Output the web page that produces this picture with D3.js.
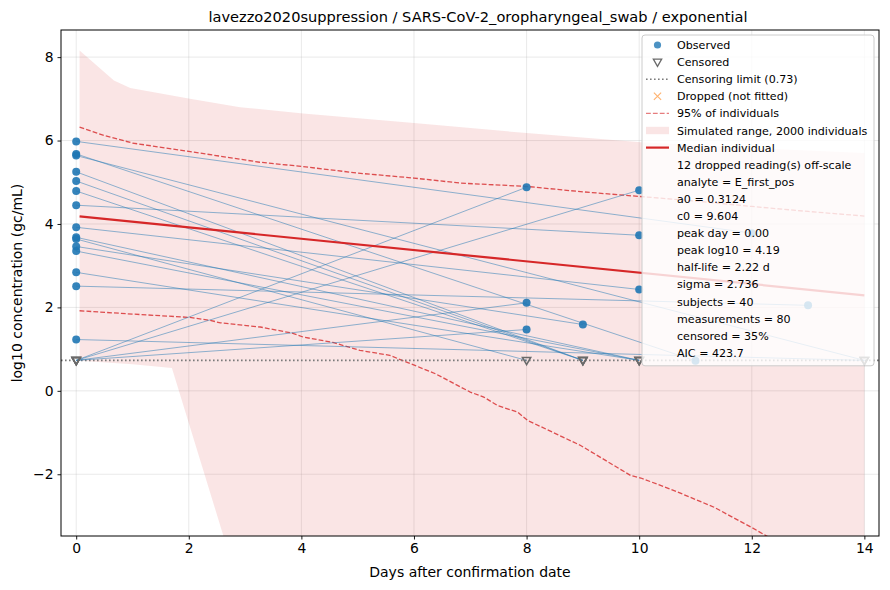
<!DOCTYPE html>
<html>
<head>
<meta charset="utf-8">
<script src="https://cdn.jsdelivr.net/npm/d3@7"></script>
<style>
  body { margin: 0; background: #fff; }
  svg { font-family: "DejaVu Sans", sans-serif; }
</style>
</head>
<body>
<svg id="chart" width="890" height="590"></svg>
<script>
// --- data ---
const censorLimit = 0.73;

// each subject: day-0 value (null = censored), follow-up day, follow-up value (null = censored)
const startValues = [5.98, 5.68, 5.64, 5.25, 5.03, 4.79, 4.45, 3.92, 3.68, 3.64, 3.46, 3.35, 2.84, 2.51, 1.23,
                     null, null, null, null];
const endDays     = [12, 11, 14, 9, 9, 9, 10, 10, 10, 8, 9, 10, 10, 13, 14,
                     8, 10, 8, 8];
const endValues   = [3.78, 0.72, null, null, null, null, 3.73, 2.43, null, null, 1.59, null, null, 2.05, null,
                     4.88, 4.81, 2.11, 1.47];

// simulated envelope and quantiles, [day, log10]
const bandUpper = [[0.06, 8.16], [0.67, 7.44], [0.96, 7.26], [2.02, 7.0], [2.91, 6.8], [4.03, 6.65],
                   [6.0, 6.42], [8.0, 6.18], [10.03, 5.96], [12, 5.82], [14, 5.7]];
const bandLower = [[0.06, 0.72], [1.0, 0.64], [1.7, 0.55], [2.02, -0.86], [2.62, -3.5], [3.0, -5.2], [14, -5.2]];
const q975 = [[0.06, 6.32], [0.5, 6.12], [1.0, 5.94], [2.0, 5.74], [3.26, 5.48], [4.0, 5.38], [5.0, 5.22],
              [6.0, 5.1], [6.82, 4.98], [8.0, 4.9], [9.0, 4.77], [10.0, 4.66], [11, 4.55], [12, 4.42],
              [13, 4.3], [14, 4.19]];
const q025 = [[0.06, 1.92], [1.0, 1.84], [2.02, 1.76], [2.38, 1.69], [2.56, 1.63], [3.27, 1.53], [3.85, 1.38],
              [4.03, 1.29], [4.56, 1.16], [5.04, 0.97], [5.57, 0.85], [5.94, 0.65], [6.38, 0.41], [7.0, -0.03],
              [7.24, -0.15], [7.48, -0.35], [7.84, -0.51], [8.02, -0.71], [8.96, -1.31], [9.85, -2.03],
              [10.03, -2.09], [10.62, -2.39], [11.33, -2.79], [11.99, -3.27], [12.29, -3.5], [13, -4.0], [14, -4.6]];
const medianDays = [0.06, 14];
const medianValues = [4.18, 2.29];

const xTicks = [0, 2, 4, 6, 8, 10, 12, 14];
const yTicks = [-2, 0, 2, 4, 6, 8];

const legendItems = ["Observed", "Censored", "Censoring limit (0.73)", "Dropped (not fitted)",
  "95% of individuals", "Simulated range, 2000 individuals", "Median individual"];
const legendNotes = ["12 dropped reading(s) off-scale", "analyte = E_first_pos", "a0 = 0.3124", "c0 = 9.604",
  "peak day = 0.00", "peak log10 = 4.19", "half-life = 2.22 d", "sigma = 2.736", "subjects = 40",
  "measurements = 80", "censored = 35%", "AIC = 423.7"];

const titleText = "lavezzo2020suppression / SARS-CoV-2_oropharyngeal_swab / exponential";

// --- layout ---
const svg = d3.select("#chart");
const plotLeft = 61, plotRight = 879, plotTop = 30, plotBottom = 536;
const blue = "#1f77b4", red = "#d62728", gray = "#6a6a6a";

const x = d3.scaleLinear().domain([-0.27, 14.26]).range([plotLeft, plotRight]);
const y = d3.scaleLinear().domain([-3.48, 8.65]).range([plotBottom, plotTop]);

svg.append("defs").append("clipPath").attr("id", "plot")
  .append("rect").attr("x", plotLeft).attr("y", plotTop)
  .attr("width", plotRight - plotLeft).attr("height", plotBottom - plotTop);

// grid
const grid = svg.append("g").attr("stroke", "#b0b0b0").attr("stroke-opacity", 0.35).attr("stroke-width", 0.8);
grid.selectAll(".gx").data(xTicks).enter().append("line")
  .attr("x1", d => x(d)).attr("x2", d => x(d)).attr("y1", plotTop).attr("y2", plotBottom);
grid.selectAll(".gy").data(yTicks).enter().append("line")
  .attr("y1", d => y(d)).attr("y2", d => y(d)).attr("x1", plotLeft).attr("x2", plotRight);

const plot = svg.append("g").attr("clip-path", "url(#plot)");
const line = d3.line().x(d => x(d[0])).y(d => y(d[1]));

// simulated range band
plot.append("path")
  .attr("d", line(bandUpper.concat(bandLower.slice().reverse())) + "Z")
  .attr("fill", red).attr("fill-opacity", 0.12);

// quantile lines
[q975, q025].forEach(q => {
  plot.append("path").attr("d", line(q)).attr("fill", "none")
    .attr("stroke", red).attr("stroke-opacity", 0.8).attr("stroke-width", 1.3)
    .attr("stroke-dasharray", "4.8,2.1");
});

// censoring limit
plot.append("line").attr("x1", plotLeft).attr("x2", plotRight)
  .attr("y1", y(censorLimit)).attr("y2", y(censorLimit))
  .attr("stroke", "#7a7a7a").attr("stroke-width", 1.6).attr("stroke-dasharray", "1.6,2.4");

// subjects
const subjects = startValues.map((v, i) => ({
  p0: [0, v === null ? censorLimit : v, v === null],
  p1: [endDays[i], endValues[i] === null ? censorLimit : endValues[i], endValues[i] === null]
}));

plot.selectAll(".subj").data(subjects).enter().append("line")
  .attr("x1", d => x(d.p0[0])).attr("y1", d => y(d.p0[1]))
  .attr("x2", d => x(d.p1[0])).attr("y2", d => y(d.p1[1]))
  .attr("stroke", blue).attr("stroke-opacity", 0.5).attr("stroke-width", 1);

// median individual
plot.append("path").attr("d", line(medianDays.map((d, i) => [d, medianValues[i]])))
  .attr("fill", "none").attr("stroke", red).attr("stroke-width", 2.2);

const points = subjects.flatMap(s => [s.p0, s.p1]);
const tri = d3.symbol().type(d3.symbolTriangle).size(30);

plot.selectAll(".obs").data(points.filter(p => !p[2])).enter().append("circle")
  .attr("cx", d => x(d[0])).attr("cy", d => y(d[1])).attr("r", 4)
  .attr("fill", blue).attr("fill-opacity", 0.9);

plot.selectAll(".cens").data(points.filter(p => p[2])).enter().append("path")
  .attr("d", tri)
  .attr("transform", d => `translate(${x(d[0])},${y(d[1]) - 0.5}) rotate(180)`)
  .attr("fill", "none").attr("stroke", gray).attr("stroke-width", 1.5);

// axes
const xAxis = svg.append("g").attr("transform", `translate(0,${plotBottom})`)
  .call(d3.axisBottom(x).tickValues(xTicks).tickSize(3.5).tickPadding(4).tickFormat(d3.format("d")));
const yAxis = svg.append("g").attr("transform", `translate(${plotLeft},0)`)
  .call(d3.axisLeft(y).tickValues(yTicks).tickSize(3.5).tickPadding(4)
    .tickFormat(d => (d < 0 ? "\u2212" : "") + Math.abs(d)));
[xAxis, yAxis].forEach(a => {
  a.select(".domain").remove();
  a.selectAll("text").attr("font-size", 13.9).attr("fill", "#000").attr("font-family", "DejaVu Sans");
  a.selectAll("line").attr("stroke", "#000").attr("stroke-width", 0.9);
});

svg.append("rect").attr("x", plotLeft).attr("y", plotTop)
  .attr("width", plotRight - plotLeft).attr("height", plotBottom - plotTop)
  .attr("fill", "none").attr("stroke", "#000").attr("stroke-width", 1);

svg.append("text").attr("x", 478).attr("y", 22).attr("text-anchor", "middle")
  .attr("font-size", 14.6).text(titleText);
svg.append("text").attr("x", (plotLeft + plotRight) / 2).attr("y", 577).attr("text-anchor", "middle")
  .attr("font-size", 14).text("Days after confirmation date");
svg.append("text").attr("transform", `translate(22,${(plotTop + plotBottom) / 2}) rotate(-90)`)
  .attr("text-anchor", "middle").attr("font-size", 14).text("log10 concentration (gc/mL)");

// legend
const lg = svg.append("g");
const lx = 642, ly = 35, lw = 232, rowH = 17.1, firstRow = 45;
const nRows = legendItems.length + legendNotes.length;
lg.append("rect").attr("x", lx).attr("y", ly).attr("width", lw)
  .attr("height", firstRow - ly + (nRows - 1) * rowH + 13)
  .attr("rx", 3).attr("fill", "#fff").attr("fill-opacity", 0.8).attr("stroke", "#cccccc").attr("stroke-width", 1);

const hx0 = 646, hx1 = 669, hxc = 657.5, tx = 677;
const rowY = i => firstRow + i * rowH;

lg.append("circle").attr("cx", hxc).attr("cy", rowY(0)).attr("r", 3.6).attr("fill", blue).attr("fill-opacity", 0.8);
lg.append("path").attr("d", tri)
  .attr("transform", `translate(${hxc},${rowY(1) - 0.5}) rotate(180)`)
  .attr("fill", "none").attr("stroke", gray).attr("stroke-width", 1.3);
lg.append("line").attr("x1", hx0).attr("x2", hx1).attr("y1", rowY(2)).attr("y2", rowY(2))
  .attr("stroke", "#7a7a7a").attr("stroke-width", 1.5).attr("stroke-dasharray", "1.6,2.4");
lg.append("path").attr("d", d3.symbol().type(d3.symbolX).size(36)())
  .attr("transform", `translate(${hxc},${rowY(3)})`)
  .attr("stroke", "#ff7f0e").attr("stroke-opacity", 0.6).attr("stroke-width", 1.1).attr("fill", "none");
lg.append("line").attr("x1", hx0).attr("x2", hx1).attr("y1", rowY(4)).attr("y2", rowY(4))
  .attr("stroke", red).attr("stroke-opacity", 0.6).attr("stroke-width", 1.3).attr("stroke-dasharray", "4.8,2.1");
lg.append("rect").attr("x", hx0).attr("y", rowY(5) - 3.7).attr("width", hx1 - hx0).attr("height", 7.4)
  .attr("fill", red).attr("fill-opacity", 0.12);
lg.append("line").attr("x1", hx0).attr("x2", hx1).attr("y1", rowY(6)).attr("y2", rowY(6))
  .attr("stroke", red).attr("stroke-width", 2.2);

lg.selectAll(".lt").data(legendItems.concat(legendNotes)).enter().append("text")
  .attr("x", tx).attr("y", (d, i) => rowY(i) + 4).attr("font-size", 11.1).attr("fill", "#000")
  .text(d => d);
</script>
</body>
</html>
